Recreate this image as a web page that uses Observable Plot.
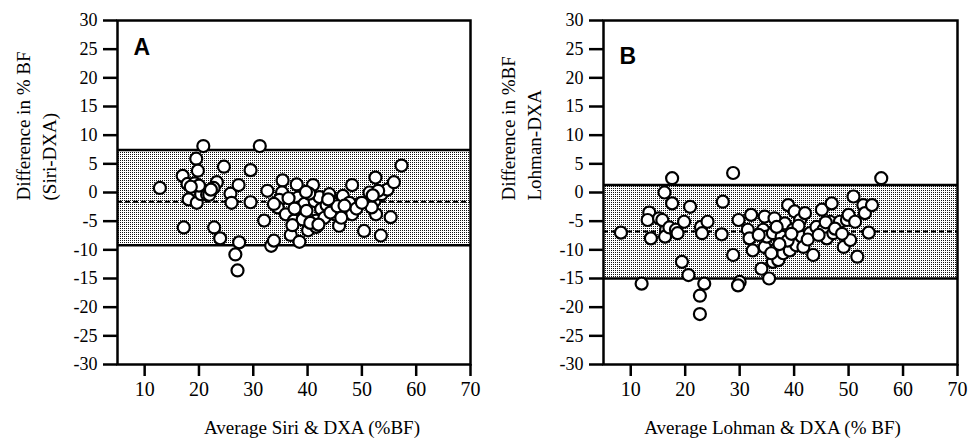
<!DOCTYPE html>
<html><head><meta charset="utf-8">
<script src="https://cdn.jsdelivr.net/npm/d3@7"></script>
<script src="https://cdn.jsdelivr.net/npm/@observablehq/plot@0.6"></script>
<style>
body{margin:0;background:#fff;}
#wrap{display:flex;width:970px;height:446px;overflow:hidden;}
</style></head><body><div id="wrap"></div>
<script>
const xTicks = [10, 20, 30, 40, 50, 60, 70];
const yTicks = [-30, -25, -20, -15, -10, -5, 0, 5, 10, 15, 20, 25, 30];

// Panel A: Siri vs DXA
const siriAvg = [12.8,17.0,17.2,17.9,18.1,19.5,19.8,19.6,19.2,20.8,20.3,20.4,21.5,20.0,23.3,22.7,24.6,22.8,23.9,25.8,
  26.0,27.3,27.4,26.7,27.1,29.5,29.5,31.2,32.6,32.0,33.3,33.8,35.4,35.3,34.8,34.5,36.0,36.9,38.0,38.2,
  38.5,37.5,38.5,39.4,39.1,40.1,41.0,41.3,41.6,41.6,42.2,42.5,43.1,44.0,44.7,45.0,45.8,46.5,47.1,48.2,
  48.2,49.5,50.4,51.4,52.5,52.3,52.6,53.5,53.6,54.7,55.3,55.9,57.3,53.0,51.8,36.5,37.2,39.8,40.5,42.0,
  43.5,44.2,45.5,46.2,47.7,49.0,50.0,52.0,40.3,37.6,39.7,43.8,46.8,33.8,21.9,22.2,18.5];
const siriDiff = [0.8,2.9,-6.1,1.5,-1.2,5.9,3.8,-1.8,1.6,8.1,0.7,-0.3,-0.4,1.2,1.8,0.8,4.5,-6.1,-8.0,-0.2,
  -1.8,1.3,-8.7,-10.8,-13.6,3.9,-1.7,8.1,0.3,-4.9,-9.3,-8.4,2.1,0.0,-1.3,-2.6,-3.8,-7.4,1.4,-0.9,
  -2.6,-4.9,-8.6,-2.0,-4.7,-6.6,1.3,-1.5,-4.9,-6.0,-0.8,-2.9,-4.4,-0.3,-1.9,-3.8,-5.8,-0.6,-3.2,1.3,
  -3.8,-2.0,-6.7,0.0,2.6,-1.5,-3.8,-7.5,-0.3,0.5,-4.3,1.8,4.7,0.3,-2.6,-1.0,-5.7,-3.2,-5.3,-5.6,
  -2.2,-3.5,-2.4,-4.4,-1.8,-2.8,-1.8,-0.5,-0.2,-2.8,0.1,-1.2,-2.3,-2.0,-0.4,0.5,1.0];
const siriLimits = [7.4, -1.6, -9.2]; // upper, mean, lower

// Panel B: Lohman vs DXA
const lohmanAvg = [8.2,12.0,13.4,13.1,13.7,15.2,16.2,16.5,16.3,15.8,17.6,17.6,17.1,18.3,18.6,19.8,19.4,20.9,20.6,22.9,
  23.1,24.1,23.5,22.7,22.7,26.9,26.7,28.8,28.8,29.8,30.0,29.7,32.1,31.5,31.8,32.4,34.0,34.6,34.3,34.6,
  35.0,35.4,36.1,36.4,36.1,36.8,37.1,37.7,38.0,38.9,38.3,39.2,40.1,39.8,40.4,41.1,41.4,42.0,41.7,42.9,
  43.5,44.1,45.1,45.4,46.0,46.9,46.6,47.2,48.4,49.1,49.7,50.3,50.9,50.0,51.2,51.6,52.7,53.0,53.7,54.3,
  56.0,36.8,38.8,40.8,42.5,44.5,45.8,47.5,48.8,39.5,37.3,33.5,35.8];
const lohmanDiff = [-7.0,-15.9,-3.5,-4.8,-8.0,-4.5,0.0,-6.5,-7.7,-4.8,2.5,-1.9,-6.1,-6.5,-7.1,-5.1,-12.1,-2.5,-14.4,-6.0,
  -7.1,-5.1,-15.9,-18.0,-21.2,-1.6,-7.3,3.4,-10.9,-4.8,-15.6,-16.2,-3.9,-6.5,-8.0,-10.1,-13.3,-4.2,-6.5,-9.5,
  -7.7,-15.0,-12.1,-4.5,-7.1,-9.8,-11.8,-7.7,-10.6,-2.2,-5.4,-10.1,-3.3,-6.5,-9.2,-4.8,-7.7,-3.6,-9.5,-7.1,
  -10.9,-6.0,-3.0,-6.5,-8.0,-1.9,-5.1,-7.1,-5.1,-9.5,-4.8,-8.3,-0.7,-3.9,-5.1,-11.2,-2.2,-3.6,-7.0,-2.2,
  2.5,-6.0,-8.4,-5.8,-8.2,-7.4,-5.2,-6.3,-7.2,-7.2,-9.0,-7.4,-10.6];
const lohmanLimits = [1.3, -6.8, -15.0];

const SERIF = "Liberation Serif";

function panel(cfg) {
  const pts = cfg.avg.map((x, i) => ({x, y: cfg.diff[i]}));
  const [upper, mean, lower] = cfg.limits;
  const svg = Plot.plot({
    width: 485, height: 446,
    marginLeft: cfg.ml, marginRight: cfg.mr, marginTop: 20, marginBottom: 82,
    style: {fontFamily: SERIF, fontSize: "18px"},
    x: {domain: [5, 70]},
    y: {domain: [-30, 30]},
    marks: [
      Plot.rect([{lower, upper}], {y1: "lower", y2: "upper", fill: `url(#${cfg.id})`}),
      Plot.ruleY([upper, lower], {stroke: "#000", strokeWidth: 2.5}),
      Plot.ruleY([mean], {stroke: "#000", strokeWidth: 2, strokeDasharray: "5,3"}),
      Plot.dot(pts, {x: "x", y: "y", r: 6, fill: "#fff", stroke: "#000", strokeWidth: 2.2}),
      Plot.frame({stroke: "#000", strokeWidth: 2.5}),
      Plot.axisX({ticks: xTicks, tickFormat: () => "", tickSize: 12, label: null}),
      Plot.axisY({ticks: yTicks, tickFormat: () => "", tickSize: 14, label: null}),
      Plot.text(xTicks, {x: d => d, text: d => String(d), frameAnchor: "bottom", dy: 31,
        fontSize: 20, fontFamily: SERIF}),
      Plot.text(yTicks, {y: d => d, text: d => String(d), frameAnchor: "left", dx: -20, textAnchor: "end",
        fontSize: 18, fontFamily: SERIF}),
      Plot.text([cfg.letter], {text: d => d, frameAnchor: "top-left", dx: cfg.letterDx, dy: cfg.letterDy, lineAnchor: "top", textAnchor: "start",
        fontFamily: "Liberation Sans", fontWeight: "bold", fontSize: 23}),
      Plot.text([cfg.yTitle], {text: d => d, frameAnchor: "left", rotate: -90, dx: 34 - cfg.ml, dy: 8, lineHeight: 1.37,
        fontSize: 19, fontFamily: SERIF}),
      Plot.text([cfg.xTitle], {text: d => d, frameAnchor: "bottom", dx: cfg.xdx, dy: 69, fontSize: 19, fontFamily: SERIF})
    ]
  });
  const ns = "http://www.w3.org/2000/svg";
  const defs = document.createElementNS(ns, "defs");
  defs.innerHTML = `<pattern id="${cfg.id}" patternUnits="userSpaceOnUse" width="2" height="2"><rect width="2" height="2" fill="#fff"/><rect width="1" height="1" fill="#111"/></pattern>`;
  svg.insertBefore(defs, svg.firstChild);
  d3.select(svg).selectAll('g[aria-label="y-axis tick"], g[aria-label="x-axis tick"]').attr("stroke-width", 2.5);
  return svg;
}

const wrap = document.getElementById("wrap");
wrap.appendChild(panel({avg: siriAvg, diff: siriDiff, limits: siriLimits, letter: "A", id: "stipA",
  yTitle: "Difference in % BF\n(Siri-DXA)", xTitle: "Average Siri & DXA (%BF)", ml: 117, mr: 15, xdx: 18, letterDx: 16, letterDy: 18}));
wrap.appendChild(panel({avg: lohmanAvg, diff: lohmanDiff, limits: lohmanLimits, letter: "B", id: "stipB",
  yTitle: "Difference in %BF\nLohman-DXA", xTitle: "Average Lohman & DXA (% BF)", ml: 118, mr: 13, xdx: -8, letterDx: 16, letterDy: 27}));
</script></body></html>
